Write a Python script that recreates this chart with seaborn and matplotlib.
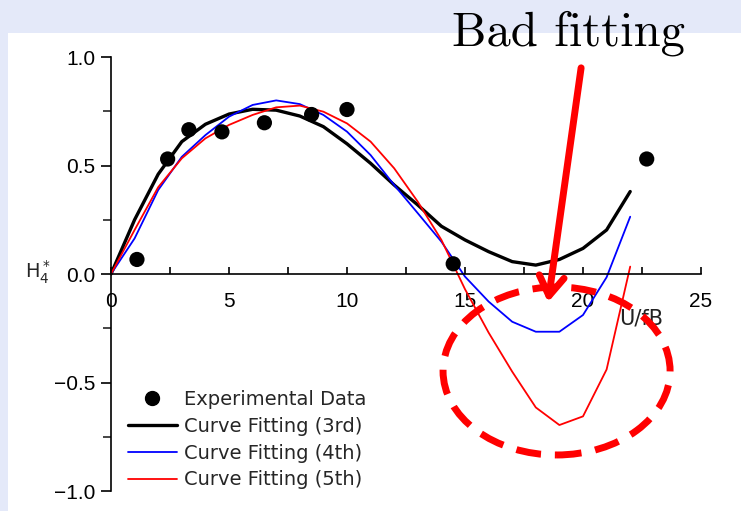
import numpy as np
import pandas as pd
import matplotlib
matplotlib.use("Agg")
import matplotlib.pyplot as plt
import seaborn as sns
from matplotlib.patches import Ellipse, Rectangle
from matplotlib.lines import Line2D
from matplotlib.ticker import MultipleLocator

# ---------------- data ----------------
exp_x = [1.1, 2.4, 3.3, 4.7, 6.5, 8.5, 10.0, 14.5, 22.7]
exp_y = [0.067, 0.53, 0.665, 0.655, 0.697, 0.735, 0.758, 0.047, 0.53]

fit_x = list(range(0, 23))
fit3 = [0.0, 0.25, 0.46, 0.61, 0.69, 0.737, 0.759, 0.755, 0.728, 0.679, 0.60,
        0.51, 0.41, 0.318, 0.22, 0.157, 0.103, 0.057, 0.041, 0.067, 0.118,
        0.203, 0.38]
fit4 = [0.0, 0.164, 0.387, 0.54, 0.64, 0.725, 0.779, 0.80, 0.783, 0.733, 0.656,
        0.548, 0.41, 0.28, 0.149, -0.012, -0.127, -0.22, -0.266, -0.266,
        -0.189, -0.015, 0.264]
fit5 = [0.0, 0.203, 0.40, 0.533, 0.625, 0.687, 0.733, 0.768, 0.776, 0.748,
        0.694, 0.61, 0.487, 0.333, 0.157, -0.07, -0.27, -0.45, -0.615, -0.696,
        -0.656, -0.44, 0.034]

labels = ["Experimental Data", "Curve Fitting (3rd)", "Curve Fitting (4th)",
          "Curve Fitting (5th)"]
x_ticks = [0, 5, 10, 15, 20, 25]
y_ticks = [-1.0, -0.5, 0.0, 0.5, 1.0]

# ---------------- style ----------------
sns.set_theme(style="ticks")
plt.rcParams["font.family"] = ["DejaVu Sans"]

W, H = 741, 511
fig = plt.figure(figsize=(W / 100, H / 100), dpi=100)
fig.patch.set_facecolor("#E4E9F9")
fig.add_artist(Rectangle((8 / W, 0), 1, (H - 33) / H, transform=fig.transFigure,
                         facecolor="white", edgecolor="none", zorder=-10))

ax = fig.add_axes([111 / W, (H - 491) / H, 590 / W, 434 / H])
ax.patch.set_alpha(0)

df = pd.DataFrame({"x": fit_x, "3rd": fit3, "4th": fit4, "5th": fit5})
sns.lineplot(data=df, x="x", y="3rd", ax=ax, color="black", lw=2.4)
sns.lineplot(data=df, x="x", y="4th", ax=ax, color="blue", lw=1.3)
sns.lineplot(data=df, x="x", y="5th", ax=ax, color="red", lw=1.3)
sns.scatterplot(x=exp_x, y=exp_y, ax=ax, color="black", s=120,
                edgecolor="none", zorder=5)

ax.set_xlim(0, 25)
ax.set_ylim(-1, 1)
ax.set_xlabel("")
ax.set_ylabel("")
ax.spines["top"].set_visible(False)
ax.spines["right"].set_visible(False)
ax.spines["bottom"].set_position(("data", 0))
for s in ("left", "bottom"):
    ax.spines[s].set_linewidth(1.2)
    ax.spines[s].set_color("black")

ax.set_xticks(x_ticks)
ax.set_xticklabels([str(v) for v in x_ticks])
ax.set_yticks(y_ticks)
ax.set_yticklabels([f"{v:.1f}".replace("-", "\u2212") for v in y_ticks])
ax.xaxis.set_minor_locator(MultipleLocator(2.5))
ax.yaxis.set_minor_locator(MultipleLocator(0.25))
ax.tick_params(axis="x", which="both", direction="in", length=5, width=1.2,
               pad=13, labelsize=15, colors="black")
ax.tick_params(axis="y", which="major", direction="out", length=7, width=1.2,
               pad=4, labelsize=15, colors="black")
ax.tick_params(axis="y", which="minor", direction="out", length=6, width=1.2)
for lab in ax.get_xticklabels() + ax.get_yticklabels():
    lab.set_fontfamily("Liberation Sans")

ax.text(22.46, -0.203, "U/fB", fontsize=15, ha="center", va="center",
        color="#222222")
fig.text(38 / W, 1 - 272 / H, r"$\mathregular{H}_4^*$", fontsize=14,
         ha="center", va="center")

# legend
handles = [Line2D([], [], marker="o", color="black", ls="none", markersize=10),
           Line2D([], [], color="black", lw=2.4),
           Line2D([], [], color="blue", lw=1.3),
           Line2D([], [], color="red", lw=1.3)]
ax.legend(handles, labels, loc="upper left", bbox_to_anchor=(128 / W, 1 - 390 / H),
          bbox_transform=fig.transFigure, frameon=False, fontsize=14,
          borderpad=0, borderaxespad=0, handlelength=2.5, handletextpad=0.4,
          labelspacing=0.4)

# annotations
ax.add_patch(Ellipse((18.88, -0.447), 9.62, 0.774, fill=False, ec="red",
                     lw=5, ls=(0, (3.6, 2.0)), clip_on=False, zorder=6))
ax.annotate("", xy=(18.52, -0.13), xytext=(19.92, 0.95),
            arrowprops=dict(arrowstyle="->,head_length=0.7,head_width=0.45",
                            color="red", lw=5, mutation_scale=20,
                            shrinkA=0, shrinkB=0),
            annotation_clip=False, zorder=7)
fig.text(569 / W, 1 - 46 / H, "Bad fitting", fontfamily="cmr10", fontsize=35,
         ha="center", va="baseline", color="black")

fig.savefig("out.png", dpi=100, facecolor=fig.get_facecolor())
